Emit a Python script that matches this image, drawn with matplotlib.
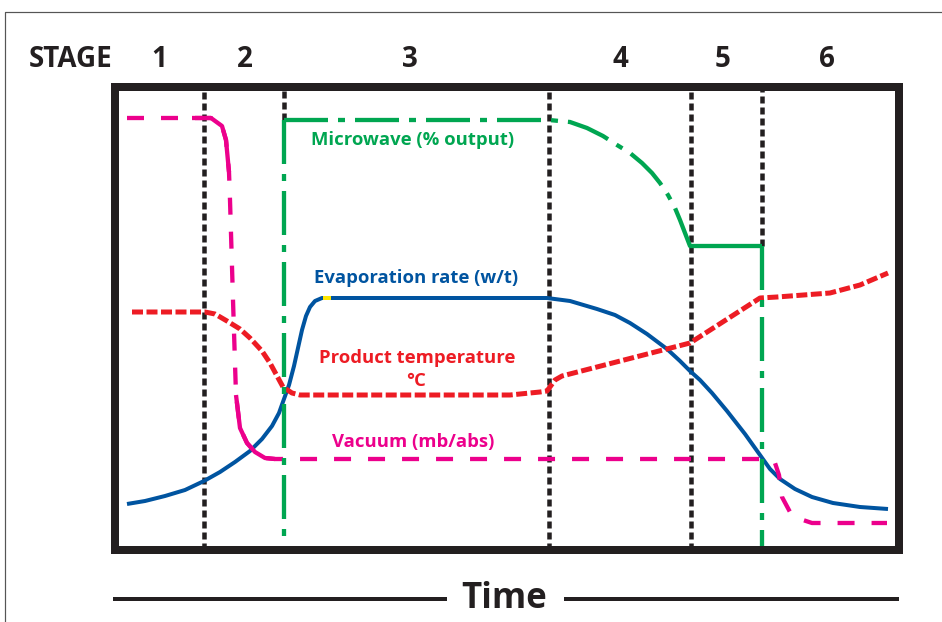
# Microwave vacuum drying stages - schematic
import numpy as np
import matplotlib
matplotlib.use('Agg')
import matplotlib.pyplot as plt
from matplotlib.lines import Line2D

plt.rcParams['font.family'] = ['Open Sans', 'DejaVu Sans']
plt.rcParams['lines.scale_dashes'] = False

# time runs 0..783 across the box, level 0..463 from box bottom to top
stage_names = ['1', '2', '3', '4', '5', '6']
stage_mid = [44, 130, 295, 505, 608, 712]
stage_edges = [89, 169, 434, 576, 647]

# microwave (% output)
mw_t = [169, 169, 434, 455, 472, 488, 502, 515, 527, 537, 545, 553, 560,
        565, 570, 575, 576, 647, 647]
mw_v = [2, 430, 430, 428, 422, 414, 405, 397, 387, 377, 367, 355, 342,
        330, 317, 304, 304, 304, 2]

# evaporation rate (w/t)
ev_t = [12, 30, 50, 70, 89, 105, 120, 135, 147, 157, 164, 169, 174, 179,
        183, 187, 191, 195, 200, 207, 432, 455, 482, 500, 515, 532, 552,
        565, 575, 585, 597, 612, 630, 645, 655, 665, 680, 697, 718, 745, 773]
ev_v = [46, 49, 54, 60, 69, 78, 88, 99, 111, 124, 137, 151, 165, 184,
        202, 220, 234, 243, 249, 252, 252, 249, 241, 235, 227, 216, 201,
        189, 179, 170, 157, 139, 116, 95, 81, 71, 61, 53, 47, 43, 41]

# product temperature (C)
pt_t = [17, 90, 100, 112, 125, 135, 147, 155, 168, 177, 185, 395, 425, 432,
        440, 447, 575, 645, 662, 715, 745, 773]
pt_v = [238, 238, 236, 229, 221, 212, 199, 187, 163, 157, 155, 155, 158, 159,
        170, 174, 207, 252, 253, 257, 265, 277]

# vacuum (mb/abs)
vac_t = [12, 77, 96, 107, 111, 114, 115, 118, 121, 125, 132, 140, 150, 160,
         650, 660, 664, 667, 675, 685, 697, 772]
vac_v = [432, 432, 432, 424, 410, 378, 350, 250, 155, 122, 107, 98, 92, 91,
         91, 87, 75, 53, 38, 31, 27, 27]

green = '#00A651'
blue = '#0054A0'
red = '#ED1C24'
magenta = '#EC008C'
black = '#231F20'
px = 0.72  # points per pixel

fig = plt.figure(figsize=(9.42, 6.22), dpi=100)
ax = fig.add_axes([115 / 942, 72 / 622, 783.5 / 942, 463 / 622])
ax.set_xlim(0, 783.5)
ax.set_ylim(0, 463)
ax.set_xticks([])
ax.set_yticks([])
for s in ax.spines.values():
    s.set_linewidth(8 * px)
    s.set_color(black)
    s.set_zorder(6)

# outer frame (top and left only)
fig.add_artist(Line2D([5 / 942, 5 / 942, 1.0], [0, 610 / 622, 610 / 622],
                      transform=fig.transFigure, color='#555555', lw=1.2 * px))

# stage boundaries; where the microwave line rises/falls it takes over below
for e in stage_edges:
    lo = 0
    if e == mw_t[0]:
        lo = mw_v[1]
    elif e == mw_t[-1]:
        lo = mw_v[-2]
    ax.plot([e, e], [lo, 463], color=black, lw=4.5 * px,
            linestyle=(0, (7 * px, 4 * px)), zorder=2)

ax.plot(ev_t, ev_v, color=blue, lw=4 * px, zorder=3, solid_capstyle='butt')
ax.plot([208, 216], [252, 252], color='#FFE600', lw=4 * px, zorder=3,
        solid_capstyle='butt')

ax.plot(pt_t, pt_v, color=red, lw=5 * px, zorder=3,
        linestyle=(0, (11 * px, 3.5 * px)))

ax.plot(vac_t, vac_v, color=magenta, lw=4.3 * px, zorder=3,
        linestyle=(0, (17 * px, 17 * px)))
ax.plot(vac_t[1:6], vac_v[1:6], color=magenta, lw=4.3 * px, zorder=3,
        solid_capstyle='butt')
ax.plot(vac_t[8:14], vac_v[8:14], color=magenta, lw=4.3 * px, zorder=3,
        solid_capstyle='butt')

# microwave: left riser drawn top-down, then top run and curve, then right drop
mw_style = dict(color=green, lw=4.3 * px, zorder=4,
                linestyle=(0, (44 * px, 10 * px, 7 * px, 10 * px)))
ax.plot(mw_t[1::-1], mw_v[1::-1], **mw_style)
ax.plot(mw_t[1:17], mw_v[1:17], **mw_style)
ax.plot(mw_t[16:18], mw_v[16:18], color=green, lw=4.3 * px, zorder=4,
        solid_capstyle='butt')
ax.plot(mw_t[17:], mw_v[17:], **mw_style)

# curve labels
lab = dict(fontsize=13.3, fontweight='bold', ha='center', va='baseline')
ax.text(298, 405, 'Microwave (% output)', color=green, **lab)
ax.text(301, 267, 'Evaporation rate (w/t)', color=blue, **lab)
ax.text(302, 187, 'Product temperature', color=red, **lab)
ax.text(301, 164, '°C', color=red, **lab)
ax.text(298, 103, 'Vacuum (mb/abs)', color=magenta, **lab)

# stage header
ax.text(-3, 483, 'STAGE', fontsize=20, fontweight='bold', color=black,
        ha='right', va='baseline', clip_on=False)
for name, m in zip(stage_names, stage_mid):
    ax.text(m, 483, name, fontsize=20, fontweight='bold', color=black,
            ha='center', va='baseline', clip_on=False)

# time axis
ax.plot([-2, 332], [-49, -49], color=black, lw=4 * px, clip_on=False,
        solid_capstyle='butt')
ax.plot([449, 784], [-49, -49], color=black, lw=4 * px, clip_on=False,
        solid_capstyle='butt')
ax.text(389, -58, 'Time', fontsize=25, fontweight='bold', color=black,
        ha='center', va='baseline', clip_on=False)

fig.savefig('out.png', dpi=100)
